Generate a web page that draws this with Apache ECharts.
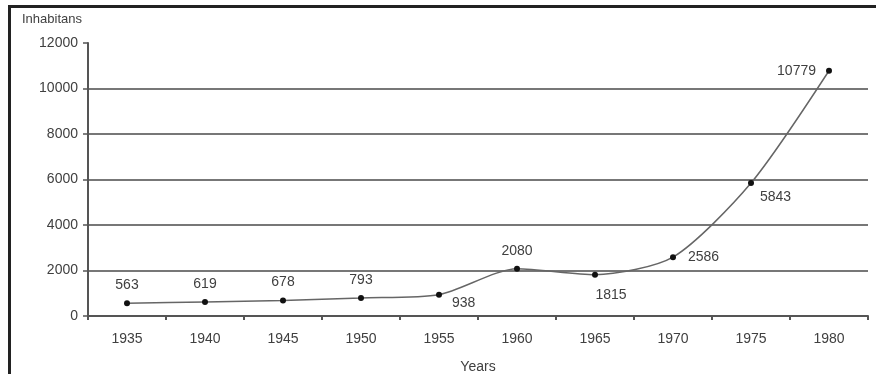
<!DOCTYPE html>
<html>
<head>
<meta charset="utf-8">
<script src="https://cdn.jsdelivr.net/npm/echarts@6/dist/echarts.min.js"></script>
<style>
  html, body { margin: 0; padding: 0; background: #fff; }
  #frame { position: absolute; left: 8px; top: 5px; width: 868px; height: 369px;
           border-top: 3px solid #222; border-left: 3px solid #222; box-sizing: border-box; }
  #chart { position: absolute; left: 0; top: 0; width: 876px; height: 374px; }
</style>
</head>
<body>
<div id="frame"></div>
<div id="chart"></div>
<script>
// Population by year
const years = ['1935', '1940', '1945', '1950', '1955', '1960', '1965', '1970', '1975', '1980'];
const inhabitants = [563, 619, 678, 793, 938, 2080, 1815, 2586, 5843, 10779];
const yTicks = [0, 2000, 4000, 6000, 8000, 10000, 12000];

// where each value label sits relative to its point
const labelPlacement = {
  '1955': { position: 'right', offset: [2, 8] },
  '1965': { position: 'bottom', offset: [16, 2] },
  '1970': { position: 'right', offset: [4, 0] },
  '1975': { position: 'right', offset: [-2, 14] },
  '1980': { position: 'left', offset: [-2, 0] }
};

const font = 'Liberation Sans, Arial, sans-serif';
const textColor = '#404040';

const chart = echarts.init(document.getElementById('chart'), null, { renderer: 'canvas' });

const seriesData = inhabitants.map((v, i) => {
  const p = labelPlacement[years[i]];
  return p ? { value: v, label: { position: p.position, offset: p.offset } } : v;
});

chart.setOption({
  backgroundColor: 'transparent',
  animation: false,
  grid: { left: 88, right: 8, top: 43, bottom: 58, containLabel: false, outerBoundsMode: 'none' },
  xAxis: {
    type: 'category',
    data: years,
    boundaryGap: true,
    name: 'Years',
    nameLocation: 'middle',
    nameGap: 44,
    nameTextStyle: { fontFamily: font, fontSize: 14, color: textColor },
    axisLine: { lineStyle: { color: '#555', width: 2 } },
    axisTick: { show: true, alignWithLabel: false, length: 4, lineStyle: { color: '#555', width: 2 } },
    axisLabel: { fontFamily: font, fontSize: 14, color: textColor, margin: 16 },
    splitLine: { show: false }
  },
  yAxis: {
    type: 'value',
    min: yTicks[0],
    max: yTicks[yTicks.length - 1],
    interval: 2000,
    name: 'Inhabitans',
    nameLocation: 'end',
    nameGap: 17,
    nameTextStyle: { fontFamily: font, fontSize: 13, color: textColor, align: 'left', padding: [0, 0, 0, -66] },
    axisLine: { show: true, lineStyle: { color: '#555', width: 2 } },
    axisTick: { show: true, length: 5, lineStyle: { color: '#555', width: 1.5 } },
    axisLabel: { fontFamily: font, fontSize: 14, color: textColor, margin: 10, formatter: v => String(v) },
    splitLine: { show: true, showMaxLine: false, lineStyle: { color: '#777', width: 2 } }
  },
  series: [{
    type: 'line',
    data: seriesData,
    smooth: 0.25,
    symbol: 'circle',
    symbolSize: 6,
    itemStyle: { color: '#111' },
    lineStyle: { color: '#666', width: 1.5 },
    label: {
      show: true,
      position: 'top',
      distance: 8,
      fontFamily: font,
      fontSize: 14,
      color: textColor
    }
  }]
});
</script>
</body>
</html>
